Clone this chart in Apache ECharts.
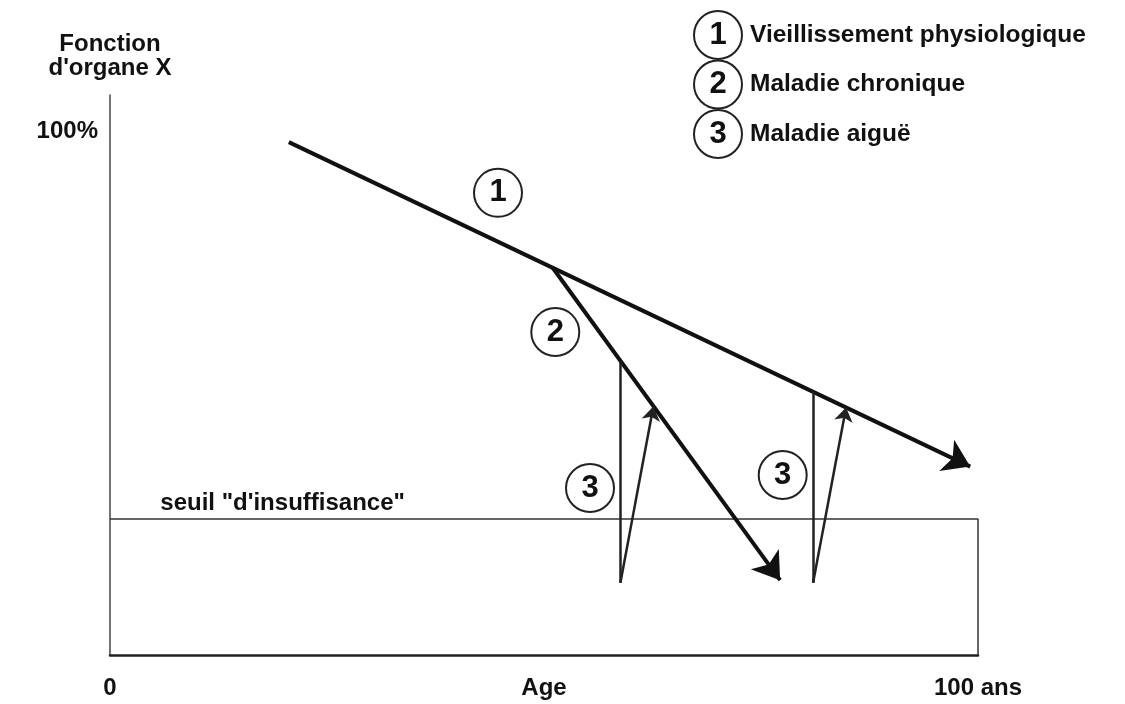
<!DOCTYPE html>
<html>
<head>
<meta charset="utf-8">
<script src="https://cdn.jsdelivr.net/npm/echarts@6/dist/echarts.min.js"></script>
<style>
  html, body { margin: 0; padding: 0; background: #fff; }
  #main { width: 1125px; height: 704px; }
</style>
</head>
<body>
<div id="main"></div>
<script>
// axe des x : 0 -> 100 ans
var xTicks = [0, 50, 100];
var xTickLabels = ['0', 'Age', '100 ans'];
var yTickLabel = '100%';

// courbes (x = age, y = fonction en %)
var agingLine = [[20.6, 98], [99.1, 36]];          // 1
var chronicLine = [[51, 74], [77.2, 14.3]];        // 2
var acuteDrops = [                                 // 3 : chute
  [[58.8, 56.2], [58.8, 13.8]],
  [[81, 50.3], [81, 13.8]]
];
var acuteRecovery = [                              // 3 : récupération
  [[58.8, 13.8], [62.6, 47.5]],
  [[81, 13.8], [84.8, 47.3]]
];
var threshold = 26;
var thresholdLabel = 'seuil "d\'insuffisance"';

// numéros cerclés dans le graphique
var markers = [[44.7, 88.3, '1'], [51.3, 61.7, '2'], [55.3, 31.9, '3'], [77.5, 34.4, '3']];

// légende
var legendNums = ['1', '2', '3'];
var legendItems = ['Vieillissement physiologique', 'Maladie chronique', 'Maladie aiguë'];

var FONT = "'Liberation Sans', Arial, sans-serif";
var INK = '#111';

var chart = echarts.init(document.getElementById('main'));

var legendGraphics = [];
legendItems.forEach(function (txt, i) {
  var cy = 35 + i * 49.5;
  legendGraphics.push({
    type: 'circle', shape: { cx: 718, cy: cy, r: 24 },
    style: { fill: '#fff', stroke: '#222', lineWidth: 2 }
  });
  legendGraphics.push({
    type: 'text', x: 718, y: cy,
    style: { text: legendNums[i], font: 'bold 31px ' + FONT, fill: INK, align: 'center', verticalAlign: 'middle' }
  });
  legendGraphics.push({
    type: 'text', x: 750, y: cy,
    style: { text: txt, font: 'bold 24.5px ' + FONT, fill: INK, align: 'left', verticalAlign: 'middle' }
  });
});

function seg(list) {
  return list.map(function (c) { return { coords: c }; });
}

chart.setOption({
  backgroundColor: '#fff',
  animation: false,
  grid: { left: 110, right: 147, top: 95, bottom: 49 },
  xAxis: {
    type: 'value', min: 0, max: 100, interval: 50,
    axisLine: { lineStyle: { color: '#222', width: 2.5 } },
    axisTick: { show: false },
    splitLine: { show: false },
    axisLabel: {
      margin: 21,
      color: INK, fontFamily: FONT, fontWeight: 'bold', fontSize: 24,
      formatter: function (v) {
        var k = xTicks.indexOf(v);
        return k >= 0 ? xTickLabels[k] : '';
      }
    }
  },
  yAxis: {
    type: 'value', min: 0, max: 107, interval: 100,
    name: "Fonction\nd'organe X",
    nameLocation: 'end', nameGap: 15,
    nameTextStyle: { color: INK, fontFamily: FONT, fontWeight: 'bold', fontSize: 24, lineHeight: 24, align: 'center' },
    axisLine: { show: true, lineStyle: { color: '#444', width: 1.5 } },
    axisTick: { show: false },
    splitLine: { show: false },
    axisLabel: {
      margin: 12,
      color: INK, fontFamily: FONT, fontWeight: 'bold', fontSize: 24,
      formatter: function (v) { return v === 100 ? yTickLabel : ''; }
    }
  },
  graphic: legendGraphics,
  series: [
    {
      // rectangle du seuil
      type: 'line',
      data: [[0, threshold], [100, threshold], [100, 0]],
      symbol: 'none',
      lineStyle: { color: '#333', width: 1.5 },
      z: 2
    },
    {
      type: 'scatter',
      data: [[5.8, threshold]],
      symbolSize: 0,
      itemStyle: { opacity: 1 },
      label: {
        show: true, position: 'right', distance: 0, offset: [0, -16],
        formatter: thresholdLabel,
        color: INK, fontFamily: FONT, fontWeight: 'bold', fontSize: 24
      },
      silent: true
    },
    {
      type: 'lines', coordinateSystem: 'cartesian2d',
      data: seg([agingLine, chronicLine]),
      symbol: ['none', 'arrow'], symbolSize: [16, 26],
      lineStyle: { color: '#111', width: 4, opacity: 1 },
      z: 3
    },
    {
      type: 'lines', coordinateSystem: 'cartesian2d',
      data: seg(acuteDrops),
      symbol: 'none',
      lineStyle: { color: '#222', width: 2.5, opacity: 1 },
      z: 3
    },
    {
      type: 'lines', coordinateSystem: 'cartesian2d',
      data: seg(acuteRecovery),
      symbol: ['none', 'arrow'], symbolSize: [9, 14],
      lineStyle: { color: '#222', width: 2.5, opacity: 1 },
      z: 3
    },
    {
      type: 'scatter',
      data: markers,
      symbol: 'circle', symbolSize: 48,
      itemStyle: { color: '#fff', borderColor: '#222', borderWidth: 2, opacity: 1 },
      label: {
        show: true, position: 'inside',
        formatter: function (p) { return p.data[2]; },
        color: INK, fontFamily: FONT, fontWeight: 'bold', fontSize: 31
      },
      z: 4
    }
  ]
});
</script>
</body>
</html>
